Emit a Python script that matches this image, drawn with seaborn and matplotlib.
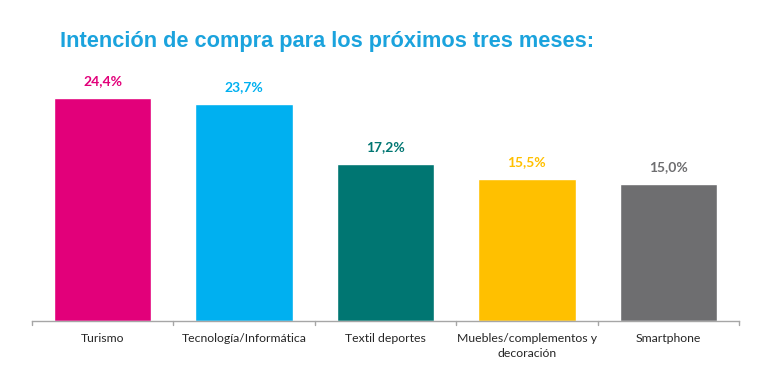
import matplotlib
matplotlib.use("Agg")
import matplotlib.pyplot as plt
import seaborn as sns
import pandas as pd

categories = ["Turismo", "Tecnología/Informática", "Textil deportes",
              "Muebles/complementos y\ndecoración", "Smartphone"]
values = [24.4, 23.7, 17.2, 15.5, 15.0]
labels = ["24,4%", "23,7%", "17,2%", "15,5%", "15,0%"]
colors = ["#E2007A", "#00B0F0", "#007672", "#FFC000", "#6E6E70"]
title = "Intención de compra para los próximos tres meses:"

sns.set_theme(style="white")
plt.rcParams['font.family'] = ['Lato', 'DejaVu Sans']

df = pd.DataFrame({"cat": categories, "val": values})

fig = plt.figure(figsize=(7.68, 3.88), dpi=100)
ax = fig.add_axes([32/768, (388-321)/388, (739-32)/768, (321-70)/388])
sns.barplot(data=df, x="cat", y="val", hue="cat", palette=colors,
            width=0.69, legend=False, ax=ax, saturation=1)
ax.set_ylim(0, (321-70)/9.14)
ax.set_xlim(-0.5, len(categories)-0.5)

for i, (v, lab, c) in enumerate(zip(values, labels, colors)):
    ax.annotate(lab, xy=(i, v), xytext=(0, 8), textcoords="offset points",
                ha="center", va="bottom", color=c, fontsize=10, fontweight="bold")

for s in ["top", "right", "left"]:
    ax.spines[s].set_visible(False)
ax.spines["bottom"].set_color("#A6A6A6")
ax.spines["bottom"].set_linewidth(1)
ax.set_yticks([])
ax.set_xlabel("")
ax.set_ylabel("")
ax.set_xticks(range(len(categories)))
ax.set_xticklabels([])
ax.tick_params(axis="x", length=0)
for i, cat in enumerate(categories):
    for j, line in enumerate(cat.split("\n")):
        ax.annotate(line, xy=(i, 0), xytext=(0, -9 - j * 10.5),
                    textcoords="offset points", ha="center", va="top",
                    fontsize=8.8, color="#262626", annotation_clip=False)
for b in [i - 0.5 for i in range(len(categories) + 1)]:
    ax.plot([b, b], [0, -0.45], color="#A6A6A6", lw=1, clip_on=False)

fig.text(60/768, 1 - 42/388, title, fontsize=15.7, fontweight="bold",
         color="#1BA3DD", family=["Liberation Sans", "DejaVu Sans"],
         ha="left", va="center")

fig.savefig("out.png", dpi=100, facecolor="white")
